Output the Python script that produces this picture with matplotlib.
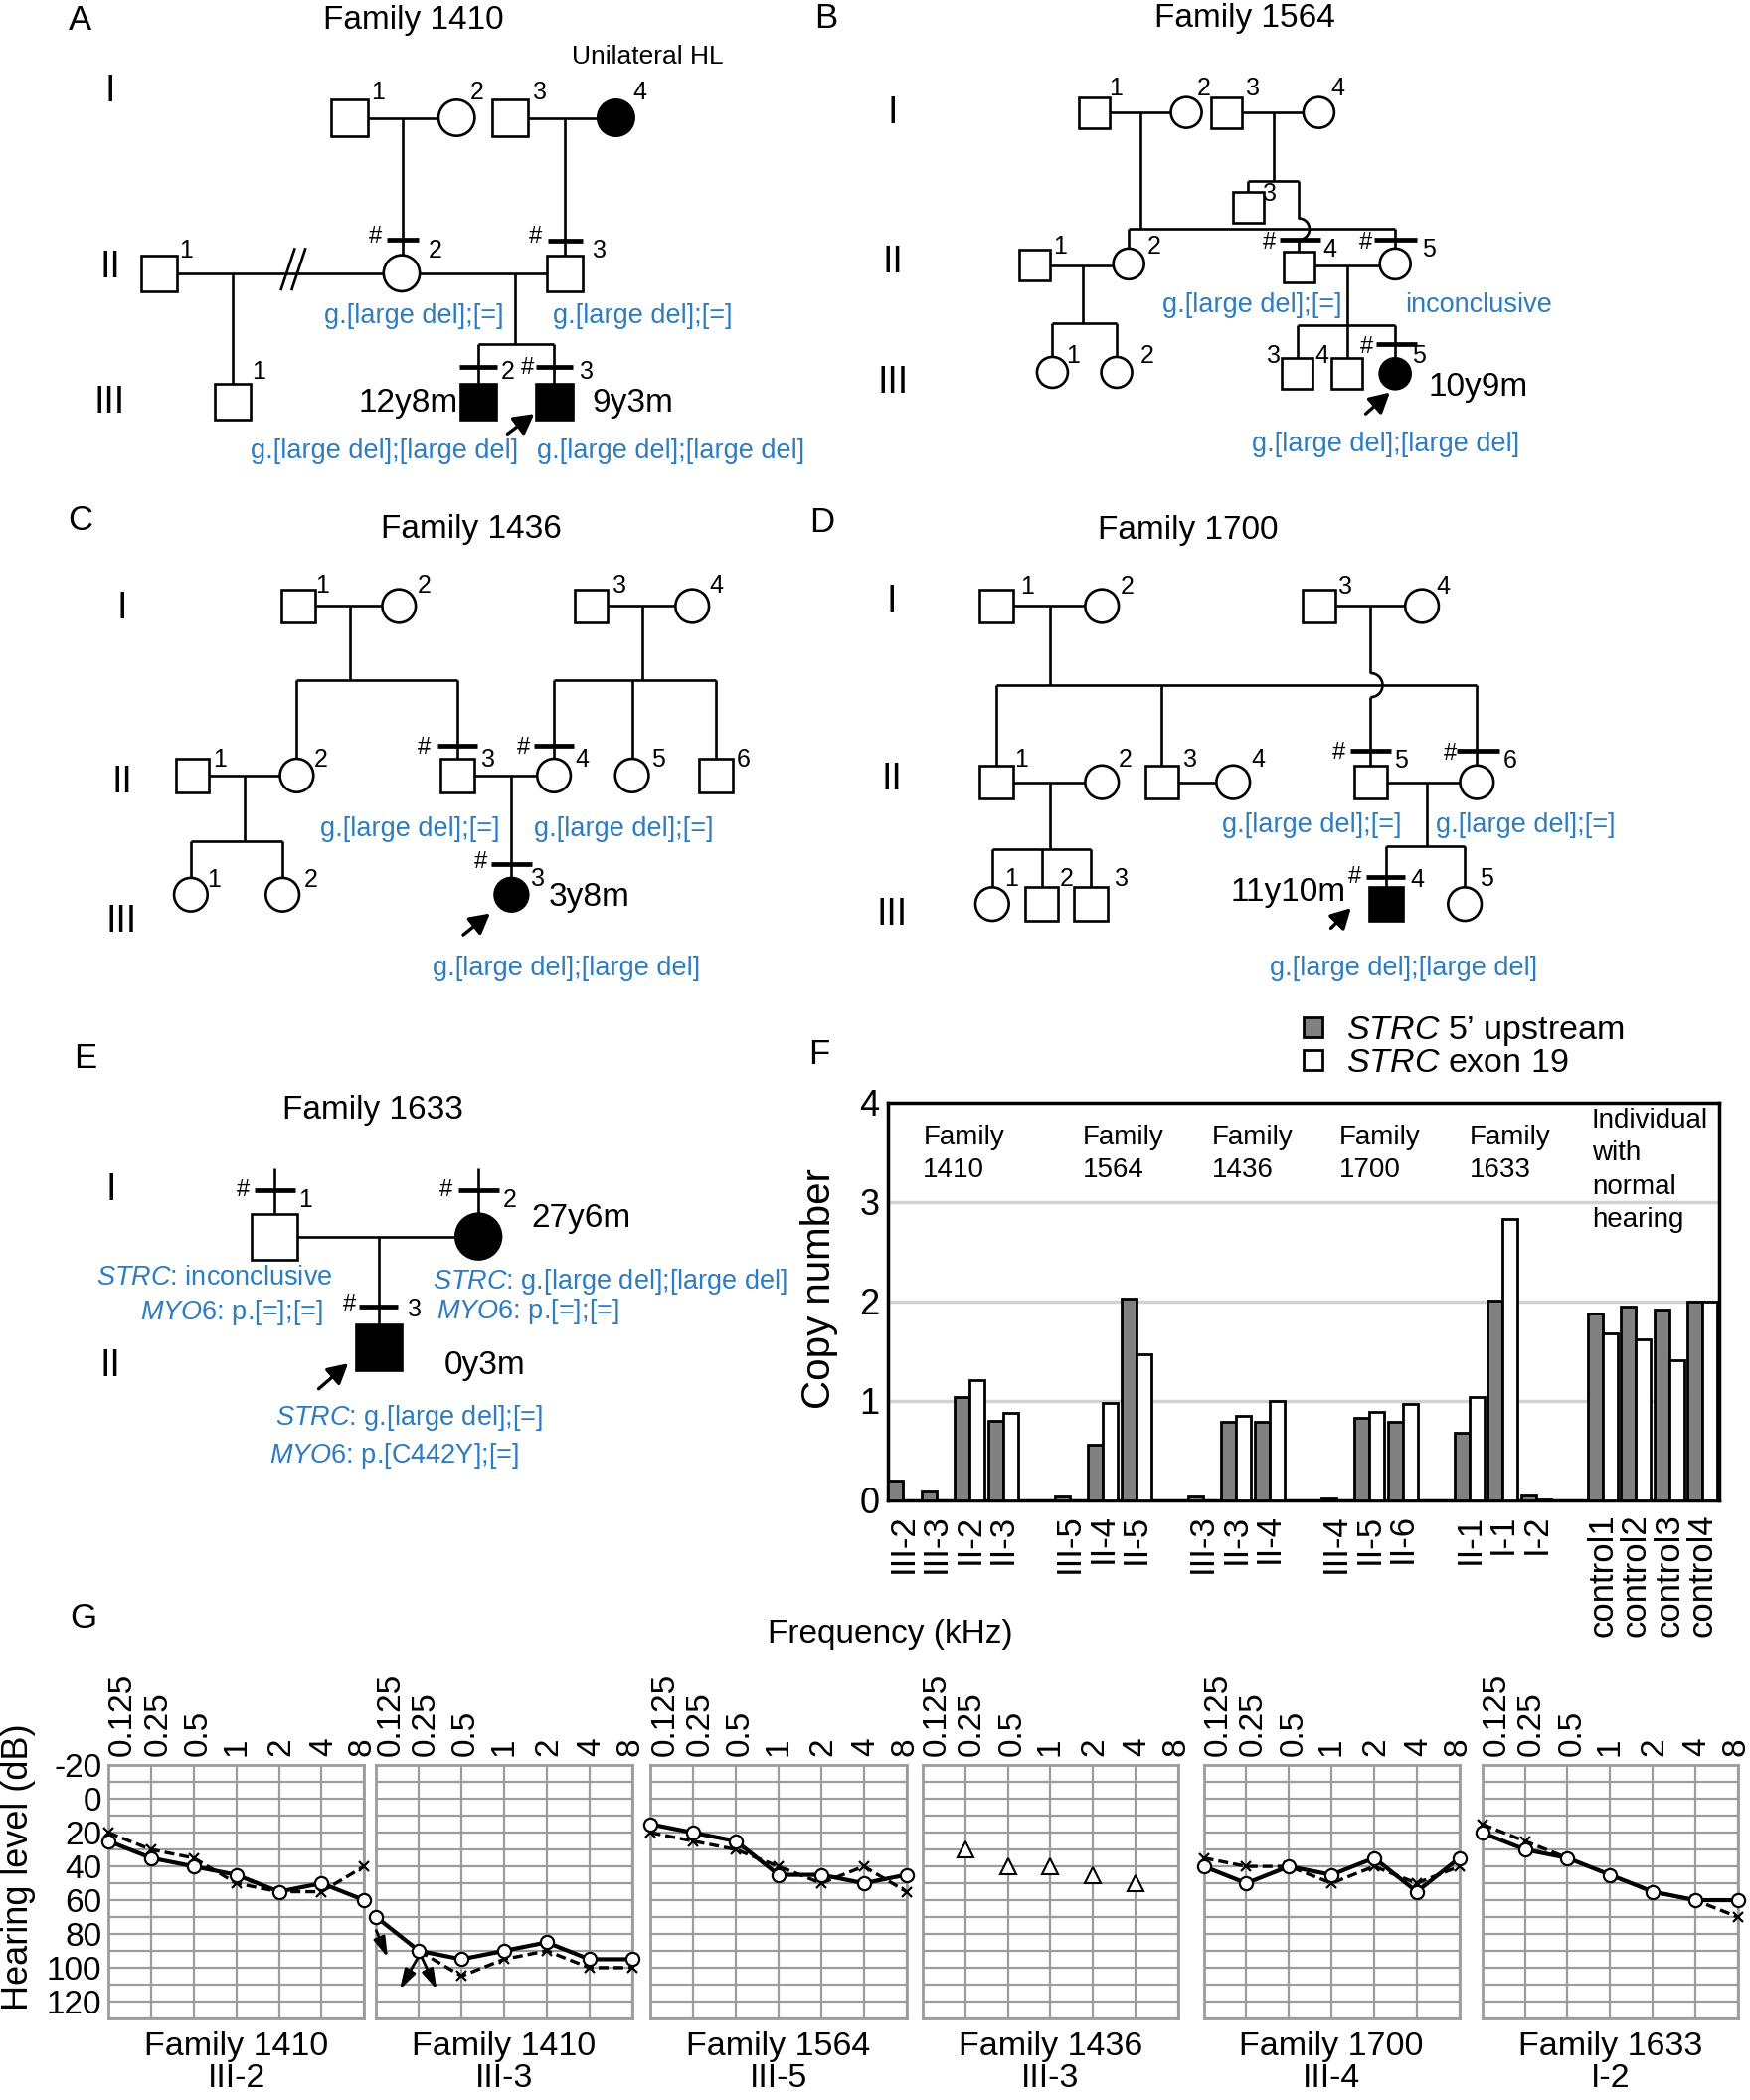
import numpy as np
import matplotlib
matplotlib.use('Agg')
import matplotlib.pyplot as plt
from matplotlib.patches import Rectangle, Circle, Arc, Patch
from matplotlib.transforms import ScaledTranslation

plt.rcParams['font.family'] = ['Liberation Sans', 'DejaVu Sans']
plt.rcParams['mathtext.fontset'] = 'custom'
plt.rcParams['mathtext.rm'] = 'Liberation Sans'
plt.rcParams['mathtext.it'] = 'Liberation Sans:italic'

# ---------------- data ----------------
family_names = ['Family 1410', 'Family 1564', 'Family 1436', 'Family 1700', 'Family 1633']
gens = ['I', 'II', 'III']
het = 'g.[large del];[=]'
hom = 'g.[large del];[large del]'

# F: copy number
cn_groups = ['Family\n1410', 'Family\n1564', 'Family\n1436', 'Family\n1700',
             'Family\n1633', 'Individual\nwith\nnormal\nhearing']
cn_members = [['III-2', 'III-3', 'II-2', 'II-3'],
              ['III-5', 'II-4', 'II-5'],
              ['III-3', 'II-3', 'II-4'],
              ['III-4', 'II-5', 'II-6'],
              ['II-1', 'I-1', 'I-2'],
              ['control1', 'control2', 'control3', 'control4']]
cn_upstream = [0.20, 0.09, 1.04, 0.80,
               0.04, 0.56, 2.03,
               0.04, 0.79, 0.79,
               0.02, 0.83, 0.79,
               0.68, 2.01, 0.045,
               1.88, 1.95, 1.92, 2.00]
cn_exon19 = [0.0, 0.0, 1.21, 0.88,
             0.0, 0.98, 1.47,
             0.0, 0.85, 1.00,
             0.0, 0.89, 0.97,
             1.04, 2.83, 0.01,
             1.68, 1.62, 1.41, 2.00]

# G: audiograms (dB HL)
freqs = ['0.125', '0.25', '0.5', '1', '2', '4', '8']
aud_titles = ['Family 1410\nIII-2', 'Family 1410\nIII-3', 'Family 1564\nIII-5',
              'Family 1436\nIII-3', 'Family 1700\nIII-4', 'Family 1633\nI-2']
nan = np.nan
aud_right = [[25, 35, 40, 45, 55, 50, 60],
             [70, 90, 95, 90, 85, 95, 95],
             [15, 20, 25, 45, 45, 50, 45],
             None,
             [40, 50, 40, 45, 35, 55, 35],
             [20, 30, 35, 45, 55, 60, 60]]
aud_left = [[20, 30, 35, 50, 55, 55, 40],
            [nan, 90, 105, 95, 90, 100, 100],
            [20, 25, 30, 40, 50, 40, 55],
            None,
            [35, 40, 40, 50, 40, 50, 40],
            [15, 25, 35, 45, 55, 60, 70]]
aud_field = [None, None, None, [nan, 30, 40, 40, 45, 50, nan], None, None]
no_response = [(0.0, 78, 0.27, 94), (1.0, 93, 0.55, 113), (1.05, 93, 1.42, 113)]

BLUE = '#2e7cc0'
FS_TITLE, FS_GEN, FS_NUM, FS_AGE, FS_BLUE, FS_HASH, FS_LET = 24, 27, 18, 24, 19.5, 17, 25
LW = 1.9

fig = plt.figure(figsize=(17.6, 21.12), dpi=100)

# overlay in reference pixel units (1307 x 1568)
ov = fig.add_axes([0, 0, 1, 1])
ov.set_xlim(0, 1307)
ov.set_ylim(1568, 0)
ov.axis('off')


def ln(x, y):
    ov.plot(x, y, color='k', lw=LW, solid_capstyle='butt', zorder=2)


def person(x, y, s, sex, aff=False):
    fc = 'k' if aff else 'w'
    if sex == 'm':
        p = Rectangle((x - s / 2, y - s / 2), s, s, fc=fc, ec='k', lw=LW, zorder=3)
    else:
        p = Circle((x, y), s / 2, fc=fc, ec='k', lw=LW, zorder=3)
    ov.add_patch(p)


def tested(x, y, half, hx=None, hy=None):
    ov.plot([x - half, x + half], [y, y], color='k', lw=3.4, solid_capstyle='butt', zorder=2)
    if hx is not None:
        ov.text(hx, hy, '#', fontsize=FS_HASH, ha='center', va='center')


def num(x, y, s):
    ov.text(x, y, s, fontsize=FS_NUM, ha='center', va='center')


def blue(x, y, s, ha='center'):
    ov.text(x, y, s, fontsize=FS_BLUE, color=BLUE, ha=ha, va='center')


def age(x, y, s, ha='left'):
    ov.text(x, y, s, fontsize=FS_AGE, ha=ha, va='center')


def proband(x0, y0, x1, y1):
    ov.annotate('', xy=(x1, y1), xytext=(x0, y0),
                arrowprops=dict(arrowstyle='-|>,head_length=0.55,head_width=0.3',
                                color='k', lw=2.4, shrinkA=0, shrinkB=0,
                                mutation_scale=22))


def hop(x, y, r):
    ov.add_patch(Arc((x, y), 2 * r, 2 * r, theta1=-90, theta2=90, color='k', lw=LW))


def gen_labels(x, ys):
    for g, y in zip(gens, ys):
        ov.text(x, y, g, fontsize=FS_GEN, ha='center', va='center')


def letter(x, y, s):
    ov.text(x, y, s, fontsize=FS_LET, ha='center', va='center')


def title(x, y, s):
    ov.text(x, y, s, fontsize=FS_TITLE, ha='center', va='center')


# ---------------- A: Family 1410 ----------------
letter(60, 15, 'A')
title(309, 15, family_names[0])
ov.text(484, 42, 'Unilateral HL', fontsize=19, ha='center', va='center')
gen_labels(82, [68, 200, 301])
s = 27
ln([274, 328], [88, 88]); ln([301, 301], [88, 191])
ln([394, 447], [88, 88]); ln([422, 422], [88, 191])
ln([132, 287], [204, 204]); ln([174, 174], [204, 287])
ov.plot([210, 220], [216, 186], color='k', lw=LW, zorder=4)
ov.plot([218, 228], [216, 186], color='k', lw=LW, zorder=4)
ln([313, 409], [204, 204]); ln([385, 385], [204, 257])
ln([357, 414], [257, 257]); ln([357, 357], [257, 287]); ln([414, 414], [257, 287])
person(261, 88, s, 'm'); person(341, 88, s, 'f'); person(381, 88, s, 'm'); person(460, 88, s, 'f', True)
person(119, 204, s, 'm'); person(300, 204, s, 'f'); person(422, 204, s, 'm')
person(174, 300, s, 'm'); person(357, 300, s, 'm', True); person(414, 300, s, 'm', True)
tested(301, 179, 12, 280, 177); tested(422, 180, 13, 400, 177)
tested(357, 274, 14); tested(414, 274, 14, 394, 275)
for x, y, t in [(282, 69, '1'), (356, 69, '2'), (403, 69, '3'), (478, 69, '4'),
                (139, 187, '1'), (325, 187, '2'), (448, 187, '3'),
                (193, 278, '1'), (379, 278, '2'), (438, 278, '3')]:
    num(x, y, t)
age(342, 301, '12y8m', 'right'); age(442, 301, '9y3m')
proband(379, 324, 399, 309)
blue(309, 236, het); blue(480, 236, het)
blue(287, 337, hom); blue(501, 337, hom)

# ---------------- B: Family 1564 ----------------
letter(617, 14, 'B')
title(930, 14, family_names[1])
gen_labels(667, [85, 196, 286])
s = 23
ln([829, 875], [84, 84]); ln([852, 852], [84, 171])
ln([843, 1042], [171, 171]); ln([843, 843], [171, 186]); ln([1042, 1042], [171, 186])
ln([928, 974], [84, 84]); ln([951, 951], [84, 135])
ln([932, 970], [135, 135]); ln([932, 932], [135, 144])
ln([970, 970], [135, 163]); hop(970, 171, 8); ln([970, 970], [179, 188])
ln([785, 832], [198, 198]); ln([809, 809], [198, 241])
ln([786, 834], [241, 241]); ln([786, 786], [241, 267]); ln([834, 834], [241, 267])
ln([982, 1031], [198, 198]); ln([1006, 1006], [198, 243])
ln([969, 1042], [243, 243]); ln([969, 969], [243, 268]); ln([1006, 1006], [243, 268]); ln([1042, 1042], [243, 268])
person(817, 84, s, 'm'); person(886, 84, s, 'f'); person(916, 84, s, 'm'); person(985, 84, s, 'f')
person(932, 155, s, 'm')
person(773, 198, s, 'm'); person(843, 197, s, 'f'); person(970, 199, s, 'm'); person(1042, 197, s, 'f')
person(786, 278, s, 'f'); person(834, 278, s, 'f')
person(969, 279, s, 'm'); person(1006, 279, s, 'm'); person(1042, 279, s, 'f', True)
tested(971, 179, 15, 948, 181); tested(1042, 179, 16, 1020, 181); tested(1043, 257, 15, 1021, 259)
for x, y, t in [(833, 66, '1'), (899, 66, '2'), (936, 66, '3'), (999, 66, '4'),
                (948, 145, '3'),
                (792, 184, '1'), (862, 184, '2'), (993, 186, '4'), (1067, 186, '5'),
                (801, 266, '1'), (857, 266, '2'), (951, 266, '3'), (987, 266, '4'), (1060, 266, '5')]:
    num(x, y, t)
age(1067, 289, '10y9m')
proband(1020, 309, 1038, 293)
blue(935, 228, het); blue(1104, 228, 'inconclusive')
blue(1035, 332, hom)

# ---------------- C: Family 1436 ----------------
letter(60, 389, 'C')
title(352, 395, family_names[2])
gen_labels(91, [454, 584, 688])
s = 25
ln([236, 286], [452.5, 452.5]); ln([261.6, 261.6], [452.5, 508])
ln([221.6, 341.6], [508, 508]); ln([221.6, 221.6], [508, 567]); ln([341.6, 341.6], [508, 567])
ln([454, 505], [452.5, 452.5]); ln([480, 480], [452.5, 508])
ln([413.7, 534.5], [508, 508]); ln([413.7, 413.7], [508, 567]); ln([472, 472], [508, 567]); ln([534.5, 534.5], [508, 567])
ln([156, 209], [579, 579]); ln([183, 183], [579, 628])
ln([142.5, 211], [628, 628]); ln([142.5, 142.5], [628, 656]); ln([211, 211], [628, 656])
ln([354, 401], [579, 579]); ln([382, 382], [579, 656])
person(223, 452.5, s, 'm'); person(298, 452.5, s, 'f'); person(441.6, 452.5, s, 'm'); person(517, 452.5, s, 'f')
person(143.7, 579, s, 'm'); person(221.6, 579, s, 'f'); person(341.6, 579, s, 'm')
person(413.7, 579, s, 'f'); person(472, 579, s, 'f'); person(534.5, 579, s, 'm')
person(142.5, 668, s, 'f'); person(211, 668, s, 'f'); person(382, 668, s, 'f', True)
tested(341.6, 557, 15, 317, 558); tested(413.7, 557, 15, 391, 558); tested(382, 645.5, 15, 359, 644)
for x, y, t in [(241, 437, '1'), (317, 437, '2'), (463, 437, '3'), (535, 437, '4'),
                (164, 567, '1'), (239.5, 567, '2'), (364.5, 567, '3'), (435, 567, '4'),
                (491.6, 567, '5'), (555, 567, '6'),
                (160, 657, '1'), (232.5, 657, '2'), (402, 656, '3')]:
    num(x, y, t)
age(410, 670, '3y8m')
proband(346, 698, 366, 682)
blue(306, 619, het); blue(466, 619, het); blue(423, 723, hom)

# ---------------- D: Family 1700 ----------------
letter(614, 390, 'D')
title(887, 396, family_names[3])
gen_labels(666, [449, 582, 683])
s = 25
ln([757, 811], [452.5, 452.5]); ln([784, 784], [452.5, 511.6])
ln([744, 1103], [511.6, 511.6])
ln([744, 744], [511.6, 572]); ln([867.7, 867.7], [511.6, 572]); ln([1103, 1103], [511.6, 572])
ln([998, 1050], [452.5, 452.5]); ln([1023.6, 1023.6], [452.5, 502.6]); hop(1023.6, 511.6, 9)
ln([1023.6, 1023.6], [520.6, 572])
ln([757, 811], [584, 584]); ln([784, 784], [584, 633.7])
ln([741, 814.5], [633.7, 633.7]); ln([741, 741], [633.7, 663]); ln([778, 778], [633.7, 663]); ln([814.5, 814.5], [633.7, 663])
ln([880, 909], [584, 584])
ln([1036, 1091], [584, 584]); ln([1065.4, 1065.4], [584, 632])
ln([1035, 1094], [632, 632]); ln([1035, 1035], [632, 663]); ln([1094, 1094], [632, 663])
person(744, 452.5, s, 'm'); person(823, 452.5, s, 'f'); person(985, 452.5, s, 'm'); person(1062, 452.5, s, 'f')
person(744, 584, s, 'm'); person(823, 584, s, 'f'); person(867.7, 584, s, 'm'); person(921, 584, s, 'f')
person(1023.6, 584, s, 'm'); person(1103, 584, s, 'f')
person(741, 675, s, 'f'); person(778, 675, s, 'm'); person(814.5, 675, s, 'm')
person(1035, 675, s, 'm', True); person(1094, 675, s, 'f')
tested(1023.6, 560.7, 15, 1000, 562); tested(1104, 560.7, 16, 1083, 563); tested(1035, 654.7, 14.5, 1012, 655)
for x, y, t in [(767, 438, '1'), (842, 438, '2'), (1005, 438, '3'), (1078, 438, '4'),
                (763, 567, '1'), (840.5, 567, '2'), (888.6, 567, '3'), (939.5, 567, '4'),
                (1046, 568, '5'), (1128, 568, '6'),
                (755.5, 656, '1'), (796.4, 656, '2'), (837.3, 656, '3'), (1058.6, 657, '4'), (1110, 656, '5')]:
    num(x, y, t)
age(1005, 666, '11y10m', 'right')
proband(994, 693, 1009, 678)
blue(980, 616, het); blue(1139.5, 616, het); blue(1048.6, 723, hom)

# ---------------- E: Family 1633 ----------------
letter(64, 790, 'E')
title(278.5, 829, family_names[4])
ov.text(82.7, 888.7, 'I', fontsize=FS_GEN, ha='center', va='center')
ov.text(82.7, 1019.8, 'II', fontsize=FS_GEN, ha='center', va='center')
s = 34
ln([222, 341], [923.3, 923.3]); ln([282.8, 282.8], [923.3, 989])
ln([205, 205], [872.6, 906]); ln([357.3, 357.3], [872.6, 906])
person(205, 923.3, s, 'm'); person(357.3, 923.3, s, 'f', True); person(282.8, 1005.7, s, 'm', True)
tested(205.3, 888.7, 15.3, 181.4, 888.7); tested(357.5, 888.7, 15.5, 333, 888.7)
tested(282.8, 975.3, 14.5, 261, 974)
num(228.4, 896, '1'); num(380.6, 896, '2'); num(309.6, 978, '3')
age(397, 910, '27y6m'); age(332, 1020, '0y3m')
proband(238, 1037, 260, 1018)
blue(160, 954, r'$\mathit{STRC}$: inconclusive')
blue(173, 980, r'$\mathit{MYO6}$: p.[=];[=]')
blue(323, 957, r'$\mathit{STRC}$: g.[large del];[large del]', 'left')
blue(326, 979, r'$\mathit{MYO6}$: p.[=];[=]', 'left')
blue(206, 1059, r'$\mathit{STRC}$: g.[large del];[=]', 'left')
blue(201, 1087, r'$\mathit{MYO6}$: p.[C442Y];[=]', 'left')

# ---------------- F: copy number ----------------
letter(612, 787, 'F')
ov.text(612, 962, 'Copy number', fontsize=29, rotation=90, ha='center', va='center')

pos, starts = [], []
slot = 0
for members in cn_members:
    starts.append(slot)
    for _ in members:
        pos.append(slot)
        slot += 1
    slot += 1
pos = np.array(pos, dtype=float)
labels = [m for members in cn_members for m in members]

axf = fig.add_axes([663 / 1307, 1 - 1120 / 1568, (1284 - 663) / 1307, (1120 - 823) / 1568])
w = 0.45
axf.bar(pos - w / 2, cn_upstream, w, color='#808080', edgecolor='k', lw=2, zorder=3)
axf.bar(pos + w / 2, cn_exon19, w, color='white', edgecolor='k', lw=2, zorder=3)
for yv in (1, 2, 3):
    axf.axhline(yv, color='#d2d2d2', lw=2.5, zorder=1)
axf.set_xlim(-0.46, 24.5)
axf.set_ylim(0, 4)
axf.set_yticks(range(5))
axf.tick_params(axis='y', length=0, labelsize=26, pad=6)
axf.set_xticks(pos)
axf.set_xticklabels(labels, rotation=90, fontsize=25)
axf.tick_params(axis='x', length=0, pad=10)
for sp in axf.spines.values():
    sp.set_linewidth(2.5)
    sp.set_color('k')
grp_dx = [0.6, 0.38, 0.27, 0.1, 0.0, -0.33]
for g, st, dx in zip(cn_groups, starts, grp_dx):
    ytop = 3.95 if g.startswith('Individual') else 3.78
    axf.text(st + dx, ytop, g, fontsize=20, ha='left', va='top', linespacing=1.38)

fig.legend([Patch(fc='#808080', ec='k', lw=2), Patch(fc='white', ec='k', lw=2)],
           [r'$\mathit{STRC}$ 5’ upstream', r'$\mathit{STRC}$ exon 19'],
           loc='upper left', bbox_to_anchor=(0.745, 0.517), frameon=False, fontsize=24.5,
           handlelength=0.55, handleheight=0.55, handletextpad=0.7, labelspacing=0.0,
           borderpad=0, borderaxespad=0)

# ---------------- G: audiograms ----------------
letter(62, 1208, 'G')
ov.text(665, 1220, 'Frequency (kHz)', fontsize=24, ha='center', va='center')
ov.text(14, 1394, 'Hearing level (dB)', fontsize=26, rotation=90, ha='center', va='center')

aud_lefts = [81, 281, 486, 689, 899, 1107]
lab_dx = [0.145, 0.07, 0.045, 0, 0.02, 0.02, -0.02]
x = np.arange(7)
for k in range(6):
    ax = fig.add_axes([aud_lefts[k] / 1307, 1 - 1507 / 1568, 191 / 1307, 189 / 1568])
    ax.set_xlim(0, 6)
    ax.set_ylim(130, -20)
    ax.set_xticks(x)
    ax.set_yticks(range(-20, 131, 10))
    ax.grid(True, color='#9c9c9c', lw=1.6)
    ax.set_axisbelow(True)
    for sp in ax.spines.values():
        sp.set_color('#9c9c9c')
        sp.set_linewidth(2)
    ax.tick_params(length=0, top=False, bottom=False, labeltop=True, labelbottom=False, pad=7)
    ax.set_xticklabels(freqs, rotation=90, fontsize=24)
    for lab, dx in zip(ax.get_xticklabels(), lab_dx):
        lab.set_transform(lab.get_transform() + ScaledTranslation(dx, 0, fig.dpi_scale_trans))
    if k == 0:
        ax.set_yticklabels([str(v) if v % 20 == 0 else '' for v in range(-20, 131, 10)],
                           fontsize=24)
        ax.tick_params(axis='y', pad=5)
    else:
        ax.tick_params(axis='y', labelleft=False)
    if aud_left[k] is not None:
        ax.plot(x, aud_left[k], color='k', lw=2.4, ls=(0, (3, 1.5)), marker='x', ms=7,
                mew=1.6, zorder=3, clip_on=False)
    if aud_right[k] is not None:
        ax.plot(x, aud_right[k], color='k', lw=3, marker='o', mfc='white', mec='k',
                ms=9.5, mew=1.6, zorder=4, clip_on=False)
    if aud_field[k] is not None:
        ax.plot(x, aud_field[k], ls='none', marker='^', mfc='white', mec='k', ms=12,
                mew=1.5, zorder=4, clip_on=False)
    if k == 1:
        for x0, y0, x1, y1 in no_response:
            ax.annotate('', xy=(x1, y1), xytext=(x0, y0), annotation_clip=False,
                        arrowprops=dict(arrowstyle='-|>,head_length=1.0,head_width=0.3',
                                        color='k', lw=2.0, shrinkA=0, shrinkB=0,
                                        mutation_scale=12))
    ax.text(0.5, -0.05, aud_titles[k], transform=ax.transAxes, ha='center', va='top',
            fontsize=24.5, linespacing=1.05)

fig.savefig('out.png', dpi=100)
